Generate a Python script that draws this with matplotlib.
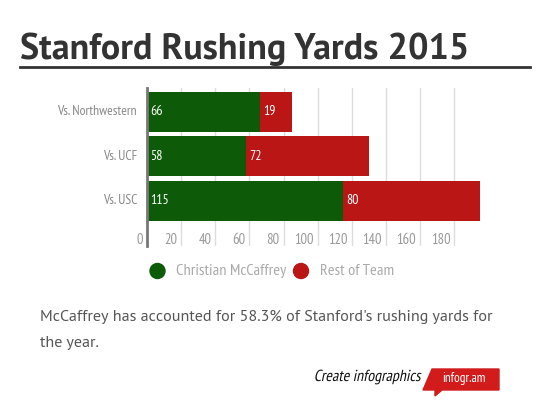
import matplotlib
matplotlib.use("agg")
import matplotlib.pyplot as plt
from matplotlib.patches import Circle, Polygon, PathPatch
from matplotlib.textpath import TextPath
from matplotlib.transforms import Affine2D, ScaledTranslation, blended_transform_factory
from matplotlib import font_manager

# data
games = ["Vs. Northwestern", "Vs. UCF", "Vs. USC"]
mccaffrey = [66, 58, 115]
rest_of_team = [19, 72, 80]
x_ticks = [0, 20, 40, 60, 80, 100, 120, 140, 160, 180]
series_names = ["Christian McCaffrey", "Rest of Team"]

GREEN = "#0d5b08"
RED = "#bb1616"

names = {f.name for f in font_manager.fontManager.ttflist}
def pick(*cands):
    for c in cands:
        if c in names:
            return c
    return "DejaVu Sans"
narrow = pick("PT Sans Narrow", "Roboto Condensed", "Open Sans Condensed", "Liberation Sans Narrow")
sans = pick("PT Sans", "Noto Sans", "Open Sans")

W, H = 550, 408
fig = plt.figure(figsize=(W / 100, H / 100), dpi=100)
fig.patch.set_facecolor("white")
px = fig.dpi_scale_trans  # inches; 1 px = 0.01
pix = Affine2D().scale(0.01) + px  # pixel coords from bottom-left

# title + rule
fig.text(20 / W, 1 - 59 / H, "Stanford Rushing Yards 2015", fontsize=26,
         fontweight="bold", color="#333333", family=sans, ha="left", va="baseline")
fig.add_artist(plt.Line2D([20 / W, 530 / W], [1 - 67 / H, 1 - 67 / H], color="#333333", lw=2))

# chart area
left, right, top, bottom = 147, 480, 88, 246
ax = fig.add_axes([left / W, 1 - bottom / H, (right - left) / W, (bottom - top) / H])
ypos = list(range(len(games)))
ax.barh(ypos, mccaffrey, height=0.9, color=GREEN, zorder=2)
ax.barh(ypos, rest_of_team, left=mccaffrey, height=0.9, color=RED, zorder=2)
ax.set_xlim(0, 195)
ax.set_ylim(2 + 1.02, -0.54)

for s in ["top", "right", "bottom"]:
    ax.spines[s].set_visible(False)
ax.spines["left"].set_color("#777777")
ax.spines["left"].set_linewidth(2)
ax.spines["left"].set_zorder(3)
ax.set_xticks([])
ax.set_yticks([])
for t in x_ticks[1:]:
    ax.axvline(t, color="#dddddd", lw=1, zorder=1)

offset = ScaledTranslation(-4 / 100, 0, px)
xform = blended_transform_factory(ax.transData, ax.transAxes) + offset
for t in x_ticks:
    ax.text(t, (bottom - 240) / (bottom - top), str(t), transform=xform, ha="right", va="center",
            fontsize=10.5, color="#999999", family=narrow)

# category labels
lab_off = ScaledTranslation(-10 / 100, 0, px)
for y, g in zip(ypos, games):
    ax.text(0, y, g, transform=ax.transData + lab_off, ha="right", va="center",
            fontsize=9.8, color="#888888", family=narrow)

# value labels
val_off = ScaledTranslation(3 / 100, 0, px)
for y, a, b in zip(ypos, mccaffrey, rest_of_team):
    ax.text(0, y, str(a), transform=ax.transData + val_off, ha="left", va="center",
            fontsize=10, color="white", family=narrow, zorder=4)
    ax.text(a, y, str(b), transform=ax.transData + val_off, ha="left", va="center",
            fontsize=10, color="white", family=narrow, zorder=4)

# legend
for cx, col, name in [(157.5, GREEN, series_names[0]), (301, RED, series_names[1])]:
    fig.add_artist(Circle((cx / 100, (H - 271) / 100), 0.075, color=col, transform=px))
    fig.text((cx + 18.5) / W, 1 - 271 / H, name, fontsize=11.8, color="#aaaaaa",
             family=narrow, ha="left", va="center")

# note
fig.text(40 / W, 1 - 321 / H, "McCaffrey has accounted for 58.3% of Stanford's rushing yards for",
         fontsize=11.6, color="#555555", family=sans, ha="left", va="baseline")
fig.text(40 / W, 1 - 347 / H, "the year.",
         fontsize=11.6, color="#555555", family=sans, ha="left", va="baseline")

# footer: slanted narrow text
tp = TextPath((0, 0), "Create infographics", size=16, prop=font_manager.FontProperties(family=narrow))
tw = tp.get_extents().x1
fig.add_artist(PathPatch(tp, color="#111111", lw=0,
                         transform=Affine2D().skew_deg(12, 0).translate(420 - tw, H - 381) + pix))
tag = [(432, 369), (499, 369), (499, 390), (442, 390), (435, 396), (435, 390), (423, 390)]
fig.add_artist(Polygon([(x / W, 1 - y / H) for x, y in tag], closed=True,
                       color="#d21c1c", transform=fig.transFigure))
fig.text(464 / W, 1 - 382 / H, "infogr.am", fontsize=9.5, color="white", family=narrow,
         ha="center", va="baseline")

fig.savefig("out.png", dpi=100, facecolor="white")
